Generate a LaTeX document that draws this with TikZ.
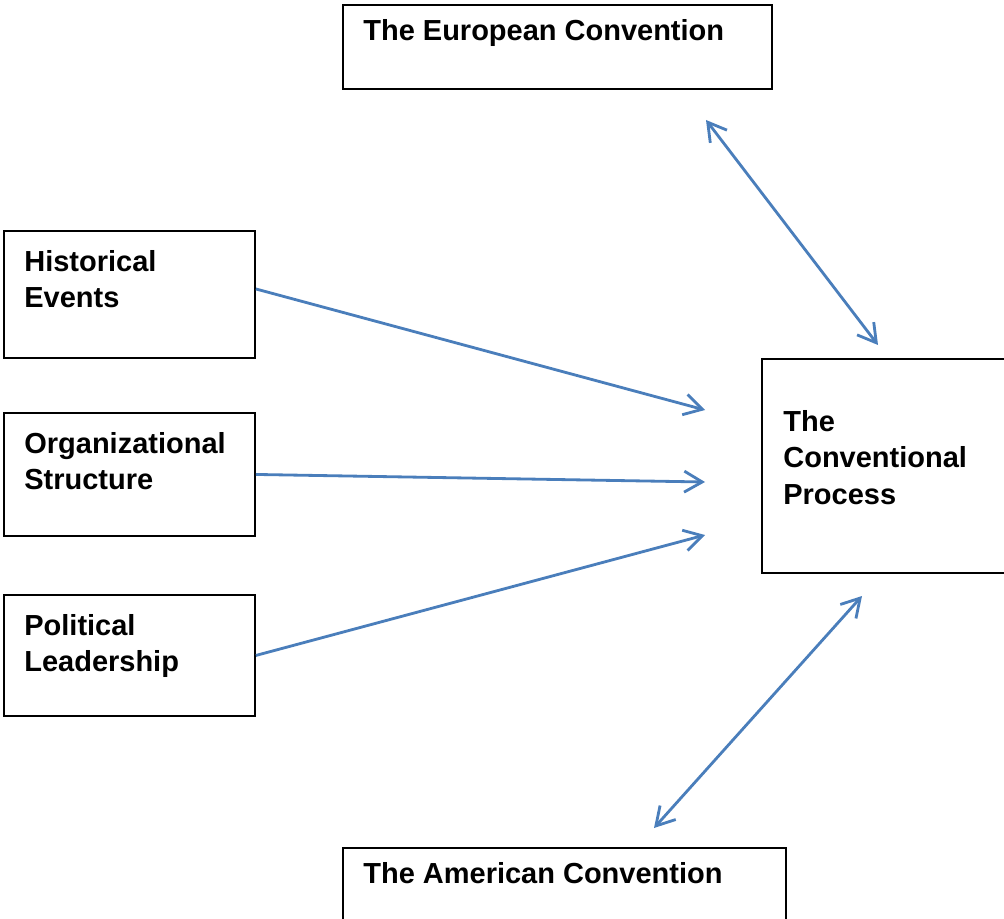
\documentclass[tikz,border=0pt]{standalone}
\usepackage{fontspec}
\setmainfont{Liberation Sans}
\usetikzlibrary{arrows.meta}
\definecolor{link}{RGB}{74,126,187}

\tikzset{
  box/.style={draw, line width=1.1pt, anchor=north west, inner sep=0pt},
  txt/.style={anchor=north west, inner sep=0pt, align=left,
    font=\fontsize{16.5}{20.8}\selectfont\bfseries},
  barb/.tip={Straight Barb[length=0.36cm, width=0.42cm]},
  link/.style={draw=link, line width=1.6pt, -barb},
  both/.style={link, barb-barb}
}

\begin{document}
\begin{tikzpicture}[x=0.02cm, y=-0.02cm]
\useasboundingbox (0, 0) rectangle (1004, 919);
% boxes
\node [box, minimum width=8.58cm, minimum height=1.68cm] (euro) at (342, 4) {};
\node [txt] (euro-t) at (363, 19) {The European Convention};
\node [box, minimum width=5.02cm, minimum height=2.54cm] (hist) at (3, 230) {};
\node [txt] (hist-t) at (24, 250) {Historical\\Events};
\node [box, minimum width=5.02cm, minimum height=2.46cm] (org) at (3, 412) {};
\node [txt] (org-t) at (24, 432) {Organizational\\Structure};
\node [box, minimum width=5.02cm, minimum height=2.42cm] (pol) at (3, 594) {};
\node [txt] (pol-t) at (24, 614) {Political\\Leadership};
\node [box, minimum width=4.98cm, minimum height=4.28cm] (conv) at (761, 358) {};
\node [txt] (conv-t) at (783, 410) {The\\Conventional\\Process};
\node [box, minimum width=8.86cm, minimum height=1.56cm] (amer) at (342, 847) {};
\node [txt] (amer-t) at (363, 862) {The American Convention};
% free ends of the arrows
\coordinate (in-hist) at (705, 410);
\coordinate (in-org) at (705, 482);
\coordinate (in-pol) at (705, 535);
\coordinate (eu-a) at (706, 120);
\coordinate (eu-b) at (878, 345);
\coordinate (am-a) at (862, 596);
\coordinate (am-b) at (654, 828);
% arrows
\draw [link] ([yshift=0.11cm]hist.east) -- (in-hist);
\draw [link] (org.east) -- (in-org);
\draw [link] (pol.east) -- (in-pol);
\draw [both] (eu-a) -- (eu-b);
\draw [both] (am-a) -- (am-b);
\end{tikzpicture}
\end{document}
